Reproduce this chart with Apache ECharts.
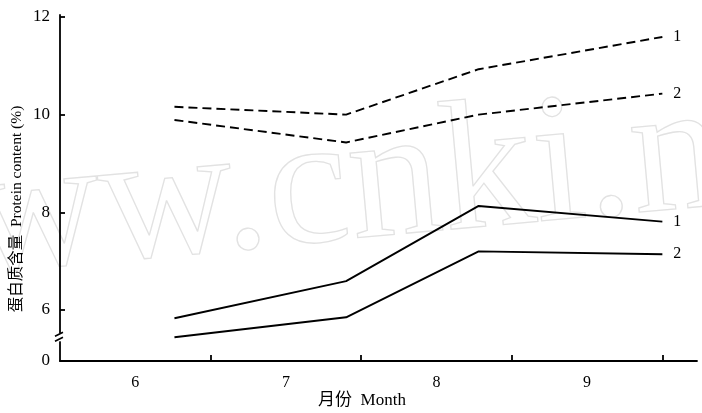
<!DOCTYPE html>
<html>
<head>
<meta charset="utf-8">
<script src="https://cdn.jsdelivr.net/npm/echarts@6/dist/echarts.min.js"></script>
<style>
html,body{margin:0;padding:0;background:#fff;}
#chart{width:702px;height:413px;}
</style>
</head>
<body>
<div id="chart"></div>
<script>
// ---- data ----
const months = ['6', '7', '8', '9'];
const monthCenters = [6, 7, 8, 9];
const monthBounds = [6.5, 7.5, 8.5, 9.5];
const sampleX = [6.26, 7.40, 8.28, 9.50];
const dashed1 = [10.16, 10.00, 10.93, 11.59];
const dashed2 = [9.89, 9.43, 10.00, 10.43];
const solid1 = [5.83, 6.59, 8.13, 7.81];
const solid2 = [5.44, 5.85, 7.20, 7.14];
const yTicks = [6, 8, 10, 12];
const yBase = 4.955;         // broken axis: bottom shown as "0"
const yTop = 12.04;
const seriesNames = ['1', '2', '1', '2'];
const xTitle = '月份  Month';
const yTitle = '蛋白质含量  Protein content (%)';

const serif = '"Liberation Serif", "Times New Roman", "Noto Sans CJK SC", serif';
const chart = echarts.init(document.getElementById('chart'), null, {renderer: 'canvas'});

function mk(values, idx, dashed) {
  return {
    type: 'line',
    name: seriesNames[idx],
    data: sampleX.map((x, i) => [x, values[i]]),
    symbol: 'none',
    silent: true,
    z: 5,
    lineStyle: {color: '#000', width: 1.9, type: dashed ? [9, 5] : 'solid'},
    endLabel: {show: true, formatter: seriesNames[idx], color: '#000',
      fontFamily: serif, fontSize: 16, distance: 11}
  };
}

const option = {
  backgroundColor: '#fff',
  animation: false,
  grid: {left: 60, right: 5, top: 15, bottom: 52, containLabel: false, outerBoundsMode: 'none'},
  xAxis: {
    type: 'value', min: 5.5, max: 9.73,
    splitLine: {show: false},
    axisLine: {show: true, lineStyle: {color: '#000', width: 1.8}},
    axisTick: {show: true, inside: true, length: 6, customValues: monthBounds,
      lineStyle: {color: '#000', width: 1.8}},
    axisLabel: {customValues: monthCenters, color: '#000', fontFamily: serif, fontSize: 16, margin: 14,
      formatter: v => months[monthCenters.indexOf(Math.round(v))]}
  },
  yAxis: {
    type: 'value', min: yBase, max: yTop,
    splitLine: {show: false},
    axisLine: {show: true, lineStyle: {color: '#000', width: 1.8}},
    axisTick: {show: true, inside: true, length: 5, customValues: yTicks,
      lineStyle: {color: '#000', width: 1.8}},
    axisLabel: {customValues: [yBase].concat(yTicks), color: '#000', fontFamily: serif, fontSize: 17, margin: 10,
      formatter: v => (v < 5.5 ? '0' : String(Math.round(v)))}
  },
  series: [mk(dashed1, 0, true), mk(dashed2, 1, true), mk(solid1, 2, false), mk(solid2, 3, false)]
};
chart.setOption(option);

// decorations: titles, axis break, watermark
const pTop = chart.convertToPixel({gridIndex: 0}, [5.5, yTop]);
const pBrk = chart.convertToPixel({gridIndex: 0}, [5.5, 5.44]);
const ax = pTop[0];
chart.setOption({
  graphic: [
    {type: 'text', x: 345, y: 190, rotation: 0.09, z: 0, silent: true,
      style: {text: 'www.cnki.net', fontFamily: serif, fontSize: 185, fill: 'rgba(0,0,0,0)',
        stroke: '#e2e2e2', lineWidth: 1.3, align: 'center', verticalAlign: 'middle'}},
    {type: 'text', x: 17, y: 209, rotation: Math.PI / 2, z: 10,
      style: {text: yTitle, fontFamily: serif, fontSize: 15.5, fill: '#000', align: 'center', verticalAlign: 'middle'}},
    {type: 'text', x: 362, y: 401, z: 10,
      style: {text: xTitle, fontFamily: serif, fontSize: 17, fill: '#000', align: 'center', verticalAlign: 'middle'}},
    {type: 'rect', shape: {x: ax - 4, y: pBrk[1] - 4, width: 8, height: 8}, z: 20,
      style: {fill: '#fff'}},
    {type: 'line', shape: {x1: ax - 5, y1: pBrk[1] - 1, x2: ax + 3, y2: pBrk[1] - 5}, z: 21,
      style: {stroke: '#000', lineWidth: 1.6}},
    {type: 'line', shape: {x1: ax - 5, y1: pBrk[1] + 4, x2: ax + 3, y2: pBrk[1]}, z: 21,
      style: {stroke: '#000', lineWidth: 1.6}}
  ]
});
</script>
</body>
</html>
